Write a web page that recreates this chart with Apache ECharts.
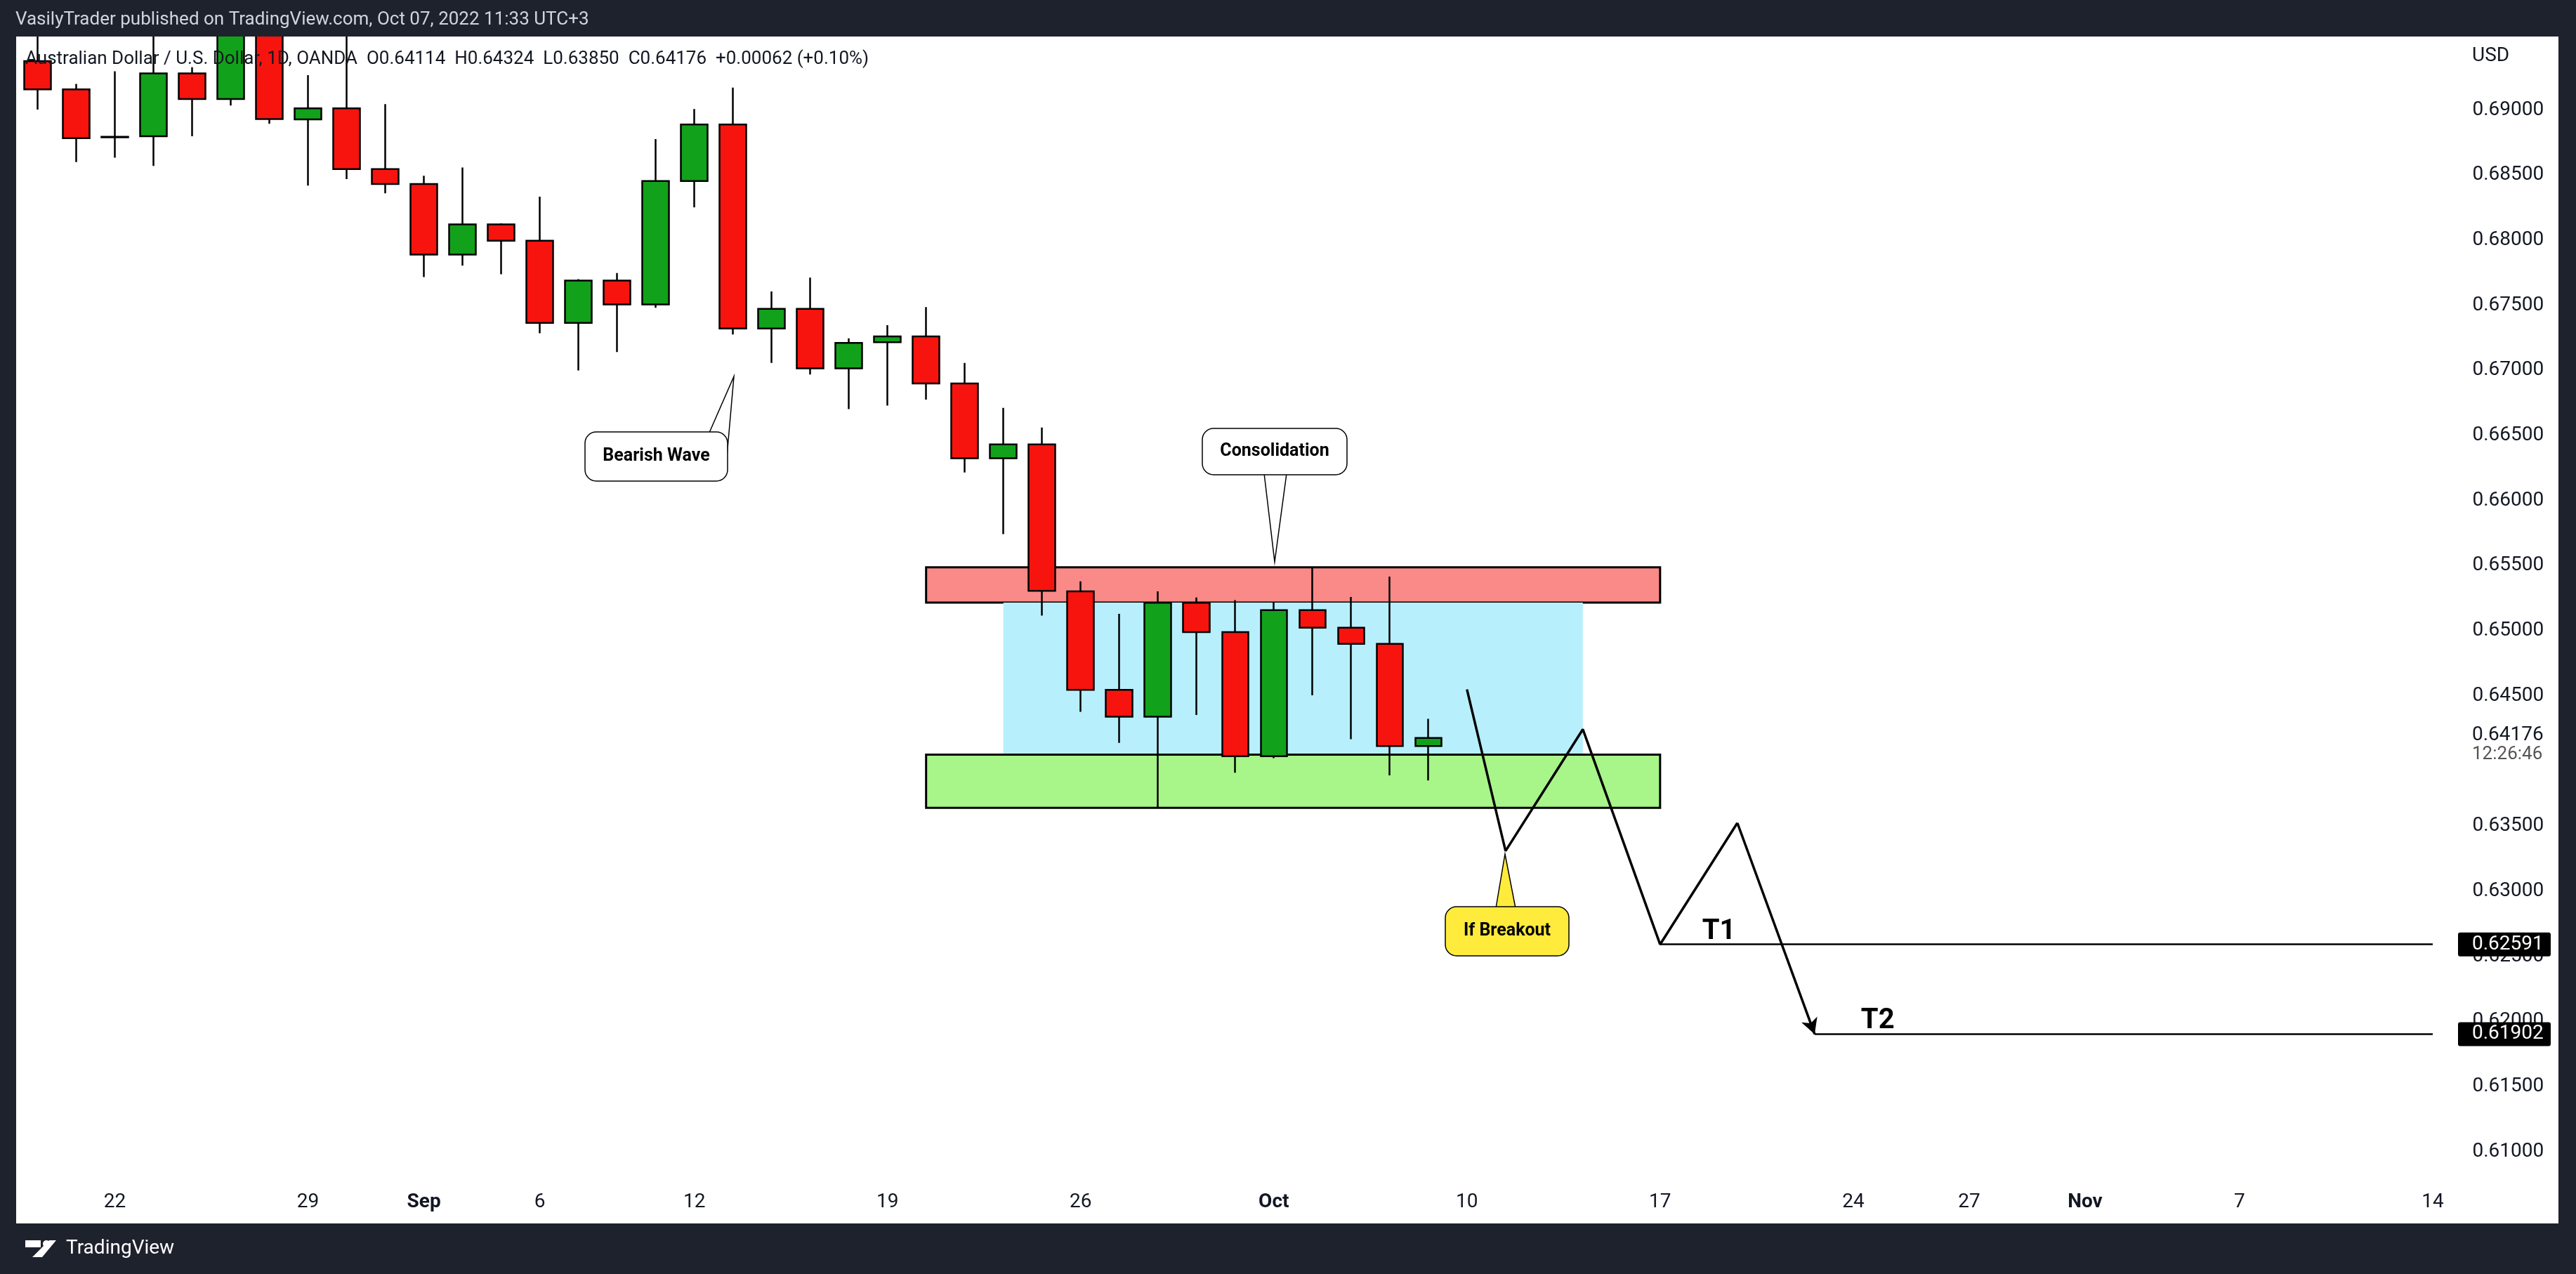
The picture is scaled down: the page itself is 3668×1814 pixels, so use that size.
<!DOCTYPE html>
<html><head><meta charset="utf-8">
<script src="https://cdn.jsdelivr.net/npm/echarts@6/dist/echarts.min.js"></script>
<style>html,body{margin:0;padding:0;background:#1e222d}#c{width:3668px;height:1814px}</style>
</head><body><div id="c"></div>
<script>
const dates = ['2022-08-18','2022-08-19',
'2022-08-22','2022-08-23','2022-08-24','2022-08-25','2022-08-26',
'2022-08-29','2022-08-30','2022-08-31','2022-09-01','2022-09-02',
'2022-09-05','2022-09-06','2022-09-07','2022-09-08','2022-09-09',
'2022-09-12','2022-09-13','2022-09-14','2022-09-15','2022-09-16',
'2022-09-19','2022-09-20','2022-09-21','2022-09-22','2022-09-23',
'2022-09-26','2022-09-27','2022-09-28','2022-09-29','2022-09-30',
'2022-10-03','2022-10-04','2022-10-05','2022-10-06','2022-10-07',
'2022-10-10','2022-10-11','2022-10-12','2022-10-13','2022-10-14',
'2022-10-17','2022-10-18','2022-10-19','2022-10-20','2022-10-21',
'2022-10-24','2022-10-25','2022-10-26','2022-10-27','2022-10-28',
'2022-10-31','2022-11-01','2022-11-02','2022-11-03','2022-11-04',
'2022-11-07','2022-11-08','2022-11-09','2022-11-10','2022-11-11',
'2022-11-14'];
const xTickLabels = {'2022-08-22':'22','2022-08-29':'29','2022-09-01':'Sep','2022-09-06':'6','2022-09-12':'12',
'2022-09-19':'19','2022-09-26':'26','2022-10-03':'Oct','2022-10-10':'10','2022-10-17':'17','2022-10-24':'24',
'2022-10-27':'27','2022-11-01':'Nov','2022-11-07':'7','2022-11-14':'14'};
// [open, close, low, high]
const ohlc = [
[0.69376,0.69159,0.69003,0.6965],[0.69159,0.68783,0.68600,0.69201],[0.68795,0.68790,0.68634,0.69297],
[0.68798,0.69281,0.68571,0.6965],[0.69281,0.69085,0.68798,0.69328],[0.69085,0.6960,0.69034,0.6970],
[0.6960,0.68931,0.68894,0.6970],[0.68928,0.69013,0.68420,0.69268],[0.69013,0.68546,0.68470,0.6960],
[0.68546,0.68432,0.68360,0.69045],[0.68432,0.67890,0.67717,0.68495],[0.67890,0.68122,0.67804,0.68558],
[0.68122,0.67996,0.67738,0.68130],[0.67996,0.67365,0.67285,0.68334],[0.67365,0.67690,0.66999,0.67700],
[0.67690,0.67507,0.67141,0.67748],[0.67507,0.68454,0.67481,0.68777],[0.68454,0.68889,0.68252,0.69008],
[0.68889,0.67322,0.67276,0.69172],[0.67322,0.67473,0.67057,0.67606],[0.67473,0.67016,0.66968,0.67713],
[0.67016,0.67211,0.66703,0.67246],[0.67216,0.67261,0.66729,0.67347],[0.67261,0.66900,0.66775,0.67486],
[0.66900,0.66325,0.66216,0.67057],[0.66325,0.66432,0.65742,0.66712],[0.66432,0.65307,0.65117,0.66561],
[0.65303,0.64546,0.64378,0.65379],[0.64546,0.64340,0.64139,0.65130],[0.64340,0.65215,0.63644,0.65303],
[0.65215,0.64990,0.64354,0.65255],[0.64990,0.64036,0.63910,0.65236],[0.64036,0.65159,0.64022,0.65222],
[0.65159,0.65024,0.64504,0.65482],[0.65024,0.64899,0.64167,0.65259],[0.64899,0.64114,0.63890,0.65416],
[0.64114,0.64176,0.63850,0.64324]];
const resistanceZone = {from:'2022-09-20', to:'2022-10-17', low:0.65217, high:0.65487};
const rangeZone = {from:'2022-09-22', to:'2022-10-13', low:0.64049, high:0.65217};
const supportZone = {from:'2022-09-20', to:'2022-10-17', low:0.63640, high:0.64049};
const pathPoints = [['2022-10-10',0.64550],['2022-10-11',0.63309],['2022-10-13',0.64243],['2022-10-17',0.62591],['2022-10-19',0.63524]];
const arrowEnd = ['2022-10-21',0.61902];
const targets = [{name:'T1', from:'2022-10-17', value:0.62591},{name:'T2', from:'2022-10-21', value:0.61902}];
const lastPrice = 0.64176;

const chart = echarts.init(document.getElementById('c'));
const F = 'Roboto, "Liberation Sans", sans-serif';
const zone = (z, fill, border) => [{xAxis:z.from, yAxis:z.high, itemStyle:{color:fill, borderColor:border, borderWidth:border?3:0}}, {xAxis:z.to, yAxis:z.low}];
chart.setOption({
  backgroundColor:'#1e222d', animation:false,
  grid:{left:26, right:176.5, top:0, height:1732.3},
  xAxis:{type:'category', data:dates, boundaryGap:true, axisLine:{show:false}, axisTick:{show:false}, splitLine:{show:false},
    axisLabel:{inside:true, margin:6, interval:(i,v)=>xTickLabels[v]!==undefined, fontSize:28, fontFamily:F, color:'#131722',
      formatter:v=>{const l=xTickLabels[v]||''; return /[A-Za-z]/.test(l)?'{b|'+l+'}':l;}, rich:{b:{fontWeight:'bold',fontSize:28,fontFamily:F,color:'#131722'}}}},
  yAxis:{type:'value', position:'right', min:0.605, max:0.69845, interval:0.005, axisLine:{show:false}, axisTick:{show:false}, splitLine:{show:false},
    axisLabel:{margin:29, fontSize:28, fontFamily:F, color:'#131722', showMaxLabel:false,
      formatter:v=>(v>0.6905||v<0.6095||Math.abs(v-0.64)<1e-6)?'':v.toFixed(5)}},
  series:[
    {type:'candlestick', data:ohlc, barWidth:38, z:5,
      itemStyle:{color:'#12a11b', color0:'#f7140f', borderColor:'#000', borderColor0:'#000', borderWidth:2.5},
      markArea:{silent:true, data:[zone(resistanceZone,'#f98a87','#000'), zone(rangeZone,'#b8effd',null), zone(supportZone,'#a8f58a','#000')]}},
    {type:'line', data:pathPoints, symbol:'none', z:6, lineStyle:{color:'#000', width:3.5},
      markLine:{silent:true, symbol:['none','none'], label:{show:false}, lineStyle:{color:'#000', width:2.5, type:'solid'},
        data:[[{coord:[targets[0].from,targets[0].value]},{coord:['2022-11-14',targets[0].value]}],
              [{coord:[targets[1].from,targets[1].value]},{coord:['2022-11-14',targets[1].value]}],
              [{coord:pathPoints[pathPoints.length-1], lineStyle:{width:3.5}, symbol:'none'},{coord:arrowEnd, symbol:'arrow', symbolSize:[18,22]}]]}}
  ]
});
const px = (d,v)=>chart.convertToPixel({xAxisIndex:0,yAxisIndex:0},[d,v]);
const g = [];
g.push({type:'rect', shape:{x:23,y:52,width:3620,height:1690}, style:{fill:'#ffffff'}, z:-10});
g.push({type:'rect', shape:{x:0,y:0,width:3668,height:52}, style:{fill:'#1e222d'}, z:100});
g.push({type:'rect', shape:{x:0,y:1742,width:3668,height:72}, style:{fill:'#1e222d'}, z:100});
g.push({type:'rect', shape:{x:0,y:0,width:23,height:1814}, style:{fill:'#1e222d'}, z:100});
g.push({type:'rect', shape:{x:3643,y:0,width:25,height:1814}, style:{fill:'#1e222d'}, z:100});
g.push({type:'text', x:22, y:28, style:{text:'VasilyTrader published on TradingView.com, Oct 07, 2022 11:33 UTC+3', fill:'#d1d4dc', font:'26px '+F, verticalAlign:'middle'}, z:101});
g.push({type:'text', x:36, y:84, style:{text:'Australian Dollar / U.S. Dollar, 1D, OANDA  O0.64114  H0.64324  L0.63850  C0.64176  +0.00062 (+0.10%)', fill:'#131722', font:'26px '+F, verticalAlign:'middle'}, z:101});
g.push({type:'text', x:3520, y:80, style:{text:'USD', fill:'#131722', font:'28px '+F, verticalAlign:'middle'}, z:101});
g.push({type:'text', x:94, y:1778, style:{text:'TradingView', fill:'#ffffff', font:'28px '+F, verticalAlign:'middle'}, z:101});
g.push({type:'rect', shape:{x:36,y:1766,width:22,height:10}, style:{fill:'#fff'}, z:101});
g.push({type:'circle', shape:{cx:66,cy:1771,r:5}, style:{fill:'#fff'}, z:101});
g.push({type:'polygon', shape:{points:[[46,1790],[60,1790],[80,1766],[70,1766]]}, style:{fill:'#fff'}, z:101});
const lp = px(dates[0], lastPrice);
g.push({type:'text', x:3520, y:lp[1]-4, style:{text:lastPrice.toFixed(5), fill:'#131722', font:'28px '+F, verticalAlign:'middle'}, z:101});
g.push({type:'text', x:3520, y:lp[1]+24, style:{text:'12:26:46', fill:'#555', font:'26px '+F, verticalAlign:'middle'}, z:101});
targets.forEach((t,i)=>{
  const p = px(t.from, t.value);
  g.push({type:'rect', shape:{x:3500,y:p[1]-17,width:132,height:34,r:3}, style:{fill:'#000'}, z:102});
  g.push({type:'text', x:3520, y:p[1], style:{text:t.value.toFixed(5), fill:'#fff', font:'28px '+F, verticalAlign:'middle'}, z:103});
  g.push({type:'text', x:p[0]+60+(i?6:0), y:p[1]-18, style:{text:t.name, fill:'#000', font:'bold 40px '+F, verticalAlign:'middle'}, z:20});
});
function callout(x,y,w,h,text,fill,tail){
  g.push({type:'polygon', shape:{points:tail}, style:{fill:fill, stroke:'#000', lineWidth:1.5}, z:30});
  g.push({type:'rect', shape:{x:x,y:y,width:w,height:h,r:16}, style:{fill:fill, stroke:'#000', lineWidth:1.5}, z:31});
  g.push({type:'text', x:x+w/2, y:y+h/2, style:{text:text, fill:'#000', font:'bold 25px '+F, align:'center', verticalAlign:'middle'}, z:32});
}
callout(833,615,203,70,'Bearish Wave','#fff',[[1010,616],[1045,536],[1035,650]]);
callout(1712,610,206,66,'Consolidation','#fff',[[1800,674],[1815,800],[1832,674]]);
callout(2058,1291,176,70,'If Breakout','#ffeb3b',[[2130,1293],[2143,1216],[2158,1293]]);
chart.setOption({graphic:g});
</script></body></html>
